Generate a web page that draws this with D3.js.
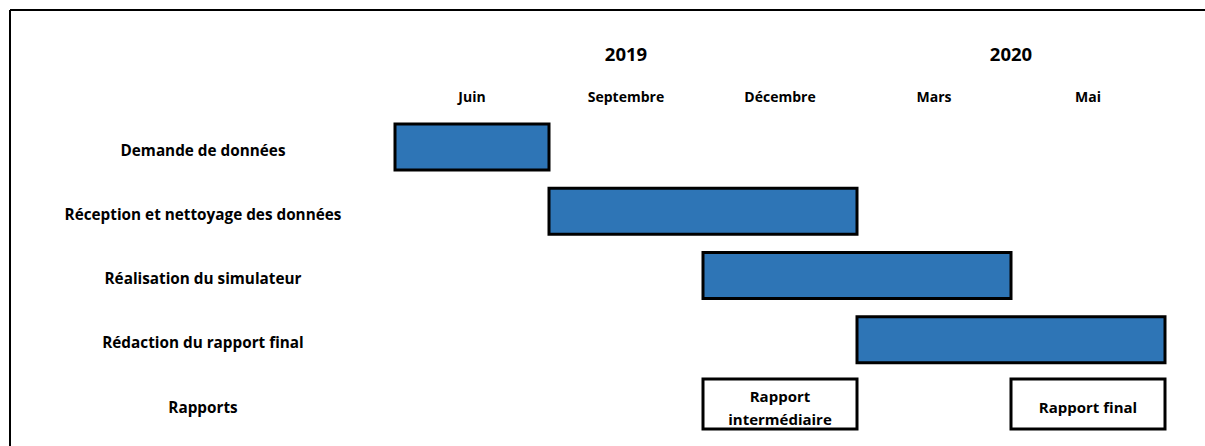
<!DOCTYPE html>
<html>
<head>
<meta charset="utf-8">
<script src="https://cdn.jsdelivr.net/npm/d3@7"></script>
<style>
body{margin:0;background:#fff;}
svg{display:block;font-family:"Open Sans",Lato,sans-serif;font-weight:bold;}
</style>
</head>
<body>
<script>
// data
const months=["Juin","Septembre","Décembre","Mars","Mai"];
const years=["2019","2020"];
const yearPos=[1.5,4];          // in month columns
const rows=["Demande de données","Réception et nettoyage des données","Réalisation du simulateur","Rédaction du rapport final","Rapports"];
const taskStart=[0,1,2,3];
const taskEnd=[1,3,4,5];
const reports=[["Rapport","intermédiaire"],["Rapport final"]];
const reportStart=[2,4];
const reportEnd=[3,5];

const w=1205, h=446;

const svg=d3.select("body").append("svg").attr("width",w).attr("height",h);

// frame
svg.append("line").attr("x1",10).attr("x2",w).attr("y1",10).attr("y2",10).attr("stroke","#000").attr("stroke-width",2);
svg.append("line").attr("x1",10).attr("x2",10).attr("y1",10).attr("y2",h).attr("stroke","#000").attr("stroke-width",2);

//scales
const xScale=d3.scaleLinear().domain([0,months.length]).range([395,1165]);
const yScale=d3.scalePoint().domain(rows).range([147,404]);

// headers
svg.selectAll(".year").data(years).enter().append("text")
  .attr("class","year")
  .attr("x",(d,i)=>xScale(yearPos[i]))
  .attr("y",61)
  .attr("text-anchor","middle")
  .style("font-size","18.5px")
  .text(d=>d);

svg.selectAll(".month").data(months).enter().append("text")
  .attr("class","month")
  .attr("x",(d,i)=>xScale(i+0.5))
  .attr("y",102)
  .attr("text-anchor","middle")
  .style("font-size","14px")
  .text(d=>d);

// row labels
svg.selectAll(".row").data(rows).enter().append("text")
  .attr("class","row")
  .attr("x",203)
  .attr("y",d=>yScale(d)+8.5)
  .attr("text-anchor","middle")
  .style("font-size","15.3px")
  .text(d=>d);

// task bars
const bh=46;
svg.selectAll(".bar").data(taskStart).enter().append("rect")
  .attr("class","bar")
  .attr("x",(d,i)=>xScale(d))
  .attr("width",(d,i)=>xScale(taskEnd[i])-xScale(d))
  .attr("y",(d,i)=>yScale(rows[i])-bh/2)
  .attr("height",bh)
  .attr("fill","#2e75b6")
  .attr("stroke","#000")
  .attr("stroke-width",3);

// report boxes
const rh=50;
const rep=svg.selectAll(".rep").data(reportStart).enter().append("g").attr("class","rep");
rep.append("rect")
  .attr("x",d=>xScale(d))
  .attr("width",(d,i)=>xScale(reportEnd[i])-xScale(d))
  .attr("y",yScale(rows[4])-rh/2)
  .attr("height",rh)
  .attr("fill","#fff")
  .attr("stroke","#000")
  .attr("stroke-width",3);
rep.each(function(d,i){
  const lines=reports[i];
  const t=d3.select(this).append("text")
    .attr("text-anchor","middle")
    .style("font-size","15px");
  lines.forEach((l,j)=>{
    t.append("tspan")
      .attr("x",(xScale(d)+xScale(reportEnd[i]))/2)
      .attr("y",yScale(rows[4])+9+(j-(lines.length-1)/2)*23)
      .text(l);
  });
});
</script>
</body>
</html>
